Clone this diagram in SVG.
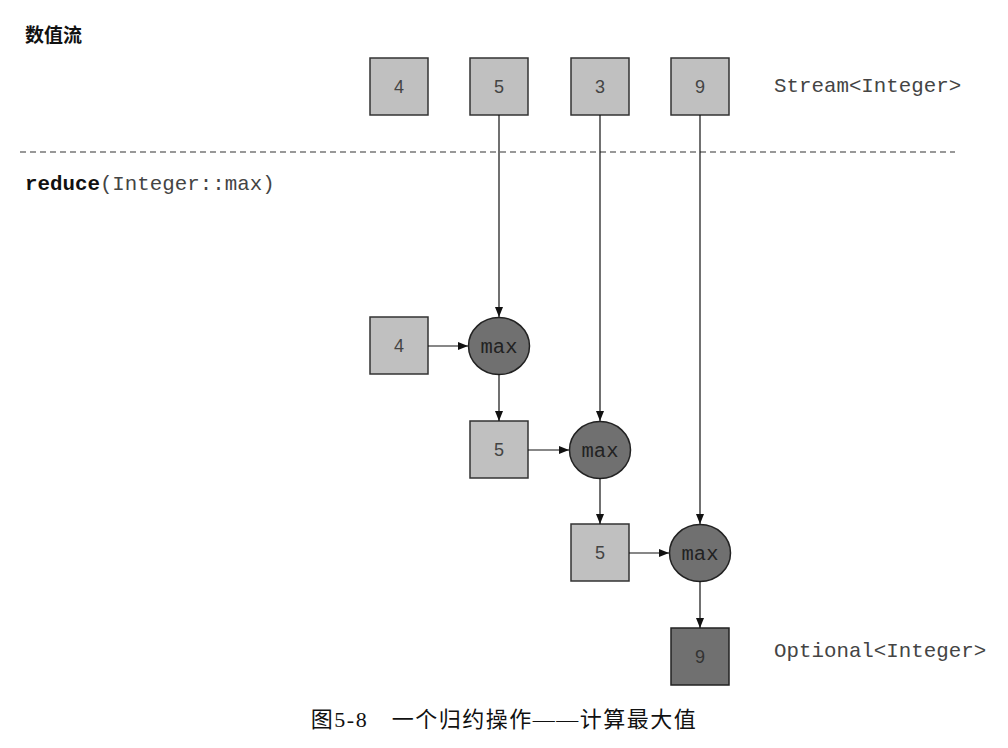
<svg xmlns="http://www.w3.org/2000/svg" width="1008" height="748" viewBox="0 0 1008 748">
<defs>
<marker id="arr" viewBox="0 0 10 10" refX="10" refY="5" markerWidth="10" markerHeight="10" markerUnits="userSpaceOnUse" orient="auto">
<path d="M0,1 L10,5 L0,9 z" fill="#111"/>
</marker>
<style>
.box{fill:#c0c0c0;stroke:#333;stroke-width:1.5}
.dbox{fill:#707070;stroke:#222;stroke-width:1.5}
.op{fill:#707070;stroke:#222;stroke-width:1.5}
.num{font-family:"Liberation Sans",Arial,sans-serif;font-size:18px;fill:#444;text-anchor:middle}
.mono{font-family:"Liberation Mono","Courier New",monospace;font-size:20.8px;fill:#444}
.opt{font-family:"Liberation Mono","Courier New",monospace;font-size:20.5px;fill:#222;text-anchor:middle}
.conn line{stroke:#111;stroke-width:1.2;marker-end:url(#arr)}
</style>
</defs>
<rect width="1008" height="748" fill="#fff"/>
<text x="25" y="42" font-family="'Noto Sans CJK SC',sans-serif" font-size="19" font-weight="bold" fill="#111">数值流</text>
<line x1="20" y1="152" x2="955" y2="152" stroke="#333" stroke-width="1.2" stroke-dasharray="6,4"/>
<text x="25" y="190" class="mono"><tspan font-weight="bold" fill="#111">reduce</tspan>(Integer::max)</text>
<text x="774" y="92" class="mono">Stream&lt;Integer&gt;</text>
<text x="774" y="657" class="mono">Optional&lt;Integer&gt;</text>
<g id="s4"><rect class="box" x="370" y="58" width="58" height="57"/><text class="num" x="399" y="93">4</text></g>
<g id="s5"><rect class="box" x="470" y="58" width="58" height="57"/><text class="num" x="499" y="93">5</text></g>
<g id="s3"><rect class="box" x="571" y="58" width="58" height="57"/><text class="num" x="600" y="93">3</text></g>
<g id="s9"><rect class="box" x="671" y="58" width="58" height="57"/><text class="num" x="700" y="93">9</text></g>
<g id="a4"><rect class="box" x="370" y="317" width="58" height="57"/><text class="num" x="399" y="352">4</text></g>
<g id="m1"><ellipse class="op" cx="499" cy="346" rx="30.5" ry="28.5"/><text class="opt" x="499" y="353">max</text></g>
<g id="a5"><rect class="box" x="470" y="421" width="58" height="57"/><text class="num" x="499" y="456">5</text></g>
<g id="m2"><ellipse class="op" cx="600" cy="450" rx="30.5" ry="28.5"/><text class="opt" x="600" y="457">max</text></g>
<g id="b5"><rect class="box" x="571" y="524" width="58" height="57"/><text class="num" x="600" y="559">5</text></g>
<g id="m3"><ellipse class="op" cx="700" cy="553" rx="30.5" ry="28.5"/><text class="opt" x="700" y="560">max</text></g>
<g id="r9"><rect class="dbox" x="671" y="628" width="58" height="57"/><text class="num" x="700" y="663" style="fill:#333">9</text></g>
<g id="connectors" class="conn">
<line x1="499" y1="115" x2="499" y2="317"/>
<line x1="600" y1="115" x2="600" y2="421"/>
<line x1="700" y1="115" x2="700" y2="524"/>
<line x1="428" y1="346" x2="468" y2="346"/>
<line x1="499" y1="374" x2="499" y2="421"/>
<line x1="528" y1="450" x2="569" y2="450"/>
<line x1="600" y1="478" x2="600" y2="524"/>
<line x1="629" y1="553" x2="669" y2="553"/>
<line x1="700" y1="581" x2="700" y2="628"/>
</g>
<text x="504" y="727" text-anchor="middle" font-family="'Liberation Serif','Noto Sans CJK SC',serif" font-size="22" letter-spacing="1.5" fill="#111">图5-8　一个归约操作——计算最大值</text>
</svg>
